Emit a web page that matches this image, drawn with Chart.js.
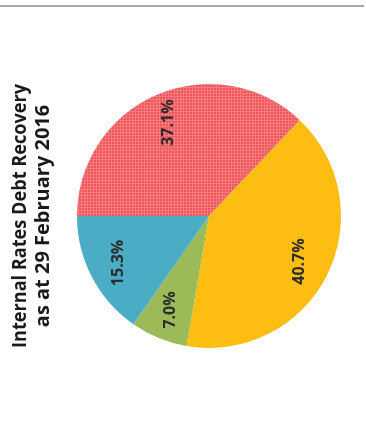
<!DOCTYPE html>
<html lang="en">

<head>
    <meta charset="UTF-8">
    <title>Internal Rates Debt Recovery</title>
    <script src="https://cdn.jsdelivr.net/npm/chart.js"></script>
    <style>
        body {
            margin: 0;
            background: #fff;
        }

        .linhaTopo {
            position: absolute;
            top: 5px;
            left: 0;
            width: 364px;
            height: 2px;
            background: #a8a8a8;
        }

        .grafico {
            position: absolute;
            top: 0;
            left: 0;
            width: 366px;
            height: 428px;
        }
    </style>
</head>

<body>

    <div class="linhaTopo"></div>
    <div class="grafico">
        <canvas id="myChartCanvas" width="366" height="428"></canvas>
    </div>

</body>

<script>
    // dados do grafico
    const categorias = ['Segment 1', 'Segment 2', 'Segment 3', 'Segment 4'];
    const percentuais = [37.1, 40.7, 7.0, 15.3];
    const rotulos = ['37.1%', '40.7%', '7.0%', '15.3%'];
    const titulo = ['Internal Rates Debt Recovery', 'as at 29 February 2016'];

    // textura quadriculada da fatia vermelha
    function criarTextura() {
        const c = document.createElement('canvas');
        c.width = 3;
        c.height = 3;
        const ctx = c.getContext('2d');
        ctx.fillStyle = '#ee5459';
        ctx.fillRect(0, 0, 3, 3);
        ctx.fillStyle = '#f47b7e';
        ctx.fillRect(0, 0, 3, 1);
        ctx.fillRect(0, 0, 1, 3);
        return ctx.createPattern(c, 'repeat');
    }

    // rotulos girados dentro das fatias
    const rotulosFatias = {
        id: 'rotulosFatias',
        afterDatasetsDraw(chart) {
            const ctx = chart.ctx;
            const arcos = chart.getDatasetMeta(0).data;
            ctx.save();
            ctx.font = 'bold 16px "Open Sans"';
            ctx.fillStyle = '#2b2b2b';
            ctx.textAlign = 'center';
            ctx.textBaseline = 'middle';
            arcos.forEach(function (arco, i) {
                const meio = (arco.startAngle + arco.endAngle) / 2;
                const r = arco.outerRadius * 0.77;
                const x = arco.x + Math.cos(meio) * r;
                const y = arco.y + Math.sin(meio) * r;
                ctx.save();
                ctx.translate(x, y);
                ctx.rotate(-Math.PI / 2);
                ctx.fillText(rotulos[i], 0, 0);
                ctx.restore();
            });
            ctx.restore();
        }
    };

    const dados = {
        labels: categorias,
        datasets: [{
            data: percentuais,
            backgroundColor: [criarTextura(), '#fdbd13', '#9bbb59', '#4bacc6'],
            borderWidth: 0
        }]
    };

    const config = {
        type: 'pie',
        data: dados,
        options: {
            responsive: false,
            animation: false,
            rotation: -90,
            layout: {
                padding: { left: 9, right: 25, top: 84, bottom: 80 }
            },
            plugins: {
                legend: { display: false },
                tooltip: { enabled: false },
                title: {
                    display: true,
                    position: 'left',
                    text: titulo,
                    color: '#1a1a1a',
                    font: { family: 'Open Sans', size: 20, weight: 'bold', lineHeight: 1.15 },
                    padding: { top: 0, bottom: 22 }
                }
            }
        },
        plugins: [rotulosFatias]
    };

    let myChart = new Chart(
        document.getElementById('myChartCanvas'),
        config
    );
</script>

</html>
